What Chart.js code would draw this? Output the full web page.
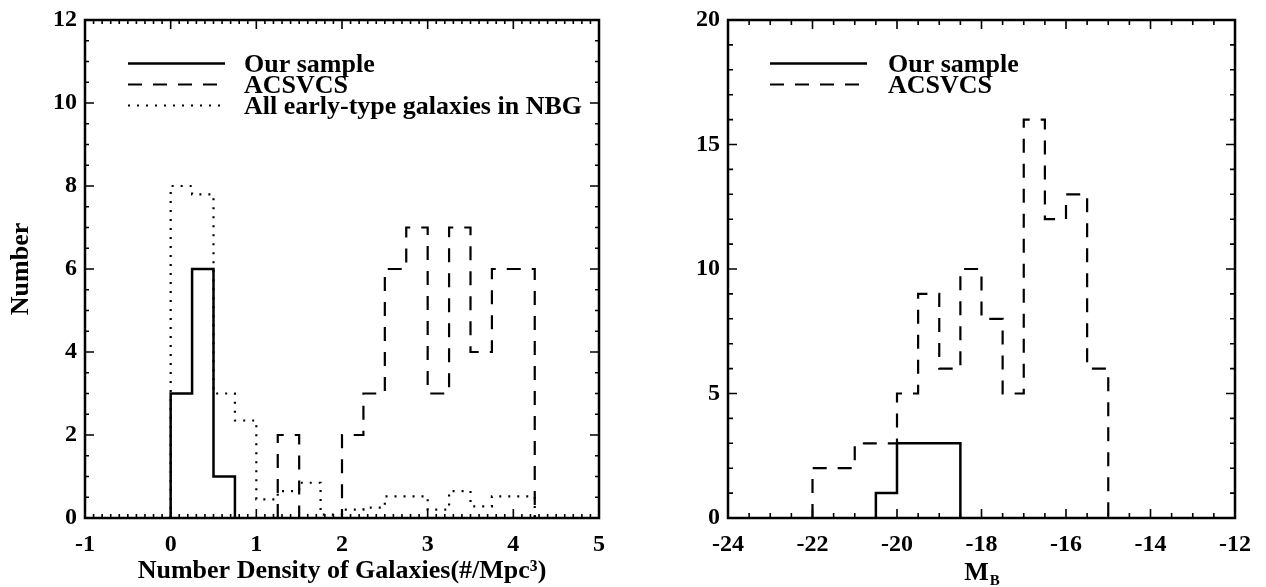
<!DOCTYPE html>
<html><head><meta charset="utf-8">
<script src="https://cdn.jsdelivr.net/npm/chart.js@4/dist/chart.umd.min.js"></script>
<style>
html,body{margin:0;padding:0;background:#fff;}
#wrap{position:relative;width:1266px;height:587px;overflow:hidden;}
#c1{position:absolute;left:0;top:0;}
#c2{position:absolute;left:630px;top:0;}
</style></head><body>
<div id="wrap"><canvas id="c1" width="620" height="587"></canvas><canvas id="c2" width="636" height="587"></canvas></div>
<script>
// ---------- data ----------
const densityEdges = [0,0.25,0.5,0.75,1,1.25,1.5,1.75,2,2.25,2.5,2.75,3,3.25,3.5,3.75,4,4.25];
const densityOurSample = [3,6,1];                       // bins from 0.00
const densityACSVCS = [2,0,0,2,3,6,7,3,7,4,6,6];          // bins from 1.25
const densityNBG = [8.0,7.8,3.0,2.35,0.45,0.65,0.85,0.08,0.2,0.25,0.52,0.52,0.2,0.65,0.28,0.52,0.52]; // bins from 0.00
const magEdges = [-22,-21.5,-21,-20.5,-20,-19.5,-19,-18.5,-18,-17.5,-17,-16.5,-16,-15.5,-15];
const magOurSample = [1,3,3,3];                          // bins from -20.5
const magACSVCS = [2,2,3,3,5,9,6,10,8,5,16,12,13,6];    // bins from -22
const densityTicks = [-1,0,1,2,3,4,5];
const leftNumberTicks = [0,2,4,6,8,10,12];
const magTicks = [-24,-22,-20,-18,-16,-14,-12];
const rightNumberTicks = [0,5,10,15,20];

const SERIF = '"Liberation Serif","Times New Roman",Times,serif';

function stepPoints(edges, first, values) {
  const pts = [{x: edges[first], y: 0}];
  values.forEach((v, i) => pts.push({x: edges[first + i + 1], y: v}));
  pts.push({x: edges[first + values.length], y: 0});
  return pts;
}

const STYLE = {
  solid: {borderDash: [], borderWidth: 2.5},
  dashed: {borderDash: [14, 11], borderWidth: 2.2},
  dotted: {borderDash: [2, 7], borderWidth: 2.2}
};

function ds(label, data, style) {
  return Object.assign({label, data, borderColor: '#000', backgroundColor: '#000',
    pointRadius: 0, fill: false, tension: 0, stepped: 'after', borderCapStyle: 'butt'}, STYLE[style]);
}

const framePlugin = {
  id: 'frame',
  afterDatasetsDraw(chart, args, o) {
    const {ctx, chartArea: a, scales: {x, y}} = chart;
    ctx.save();
    ctx.setLineDash([]);
    ctx.strokeStyle = '#000';
    ctx.lineWidth = 1.6;
    const near = (v, m) => Math.abs(v / m - Math.round(v / m)) < 1e-6;
    const nx = Math.round((x.max - x.min) / o.xMinor);
    for (let i = 0; i <= nx; i++) {
      const v = x.min + i * o.xMinor;
      const px = x.getPixelForValue(v);
      const len = near(v, o.xMajor) ? o.majorLen : o.minorLen;
      ctx.beginPath();
      ctx.moveTo(px, a.bottom); ctx.lineTo(px, a.bottom - len);
      ctx.moveTo(px, a.top); ctx.lineTo(px, a.top + len);
      ctx.stroke();
    }
    const ny = Math.round((y.max - y.min) / o.yMinor);
    for (let i = 0; i <= ny; i++) {
      const v = y.min + i * o.yMinor;
      const py = y.getPixelForValue(v);
      const len = near(v, o.yMajor) ? o.majorLen : o.minorLen;
      ctx.beginPath();
      ctx.moveTo(a.left, py); ctx.lineTo(a.left + len, py);
      ctx.moveTo(a.right, py); ctx.lineTo(a.right - len, py);
      ctx.stroke();
    }
    ctx.lineWidth = 2.5;
    ctx.strokeRect(a.left, a.top, a.right - a.left, a.bottom - a.top);
    // legend
    ctx.font = 'bold 26px ' + SERIF;
    ctx.fillStyle = '#000';
    ctx.textBaseline = 'alphabetic';
    chart.data.datasets.forEach((d, i) => {
      const base = o.legendBase + i * o.legendStep;
      const ly = base - 8.5;
      ctx.save();
      ctx.lineWidth = d.borderWidth;
      ctx.setLineDash(d.borderDash);
      ctx.beginPath();
      ctx.moveTo(o.legendX0, ly); ctx.lineTo(o.legendX1, ly);
      ctx.stroke();
      ctx.restore();
      ctx.fillText(d.label, o.legendTextX, base);
    });
    // optional custom x title with subscript
    if (o.subTitle) {
      const cx = (a.left + a.right) / 2;
      ctx.font = 'bold 26px ' + SERIF;
      const wM = ctx.measureText(o.subTitle[0]).width;
      ctx.font = 'bold 15px ' + SERIF;
      const wB = ctx.measureText(o.subTitle[1]).width;
      const x0 = cx - (wM + wB) / 2;
      ctx.font = 'bold 26px ' + SERIF;
      ctx.fillText(o.subTitle[0], x0, 580);
      ctx.font = 'bold 15px ' + SERIF;
      ctx.fillText(o.subTitle[1], x0 + wM + 1, 585);
    }
    ctx.restore();
  }
};

function tickFont() { return {family: SERIF, size: 24, weight: 'bold', lineHeight: 1}; }

function makeChart(id, datasets, xr, yr, xTicks, yTicks, yWidth, padRight, yTitle, xTitle, frameOpts) {
  return new Chart(document.getElementById(id), {
    type: 'line',
    data: {datasets},
    options: {
      responsive: false, animation: false, devicePixelRatio: 1,
      layout: {padding: {top: 13, right: padRight, left: 0, bottom: 0}},
      plugins: {legend: {display: false}, tooltip: {enabled: false}, frame: frameOpts},
      scales: {
        x: {
          type: 'linear', min: xr[0], max: xr[1],
          afterBuildTicks: s => { s.ticks = xTicks.map(v => ({value: v})); },
          grid: {display: false, drawTicks: false}, border: {display: false},
          ticks: {font: tickFont(), color: '#000', padding: 15, maxRotation: 0, autoSkip: false},
          title: xTitle ? {display: true, text: xTitle, color: '#000',
            font: {family: SERIF, size: 26, weight: 'bold', lineHeight: 1.2}, padding: {top: 0, bottom: 0}} : {display: false},
          afterFit: s => { s.height = 69; }
        },
        y: {
          type: 'linear', min: yr[0], max: yr[1],
          afterBuildTicks: s => { s.ticks = yTicks.map(v => ({value: v})); },
          grid: {display: false, drawTicks: false}, border: {display: false},
          ticks: {font: tickFont(), color: '#000', padding: 8, autoSkip: false},
          title: yTitle ? {display: true, text: yTitle, color: '#000',
            font: {family: SERIF, size: 26, weight: 'bold', lineHeight: 1.2}, padding: {top: 6, bottom: 0}} : {display: false},
          afterFit: s => { s.width = yWidth; }
        }
      }
    },
    plugins: [framePlugin]
  });
}

makeChart('c1', [
    ds('Our sample', stepPoints(densityEdges, 0, densityOurSample), 'solid'),
    ds('ACSVCS', stepPoints(densityEdges, 5, densityACSVCS), 'dashed'),
    ds('All early-type galaxies in NBG', stepPoints(densityEdges, 0, densityNBG), 'dotted')
  ], [-1, 5], [0, 12], densityTicks, leftNumberTicks, 85, 20,
  'Number', 'Number Density of Galaxies(#/Mpc\u00B3)',
  {xMinor: 0.1, xMajor: 1, yMinor: 0.5, yMajor: 2, majorLen: 9, minorLen: 4,
   legendBase: 72, legendStep: 21, legendX0: 128, legendX1: 225, legendTextX: 244});

makeChart('c2', [
    ds('Our sample', stepPoints(magEdges, 3, magOurSample), 'solid'),
    ds('ACSVCS', stepPoints(magEdges, 0, magACSVCS), 'dashed')
  ], [-24, -12], [0, 20], magTicks, rightNumberTicks, 98, 23,
  null, null,
  {xMinor: 0.5, xMajor: 2, yMinor: 1, yMajor: 5, majorLen: 9, minorLen: 5,
   legendBase: 72, legendStep: 21, legendX0: 140, legendX1: 237, legendTextX: 258,
   subTitle: ['M', 'B']});
</script>
</body></html>
